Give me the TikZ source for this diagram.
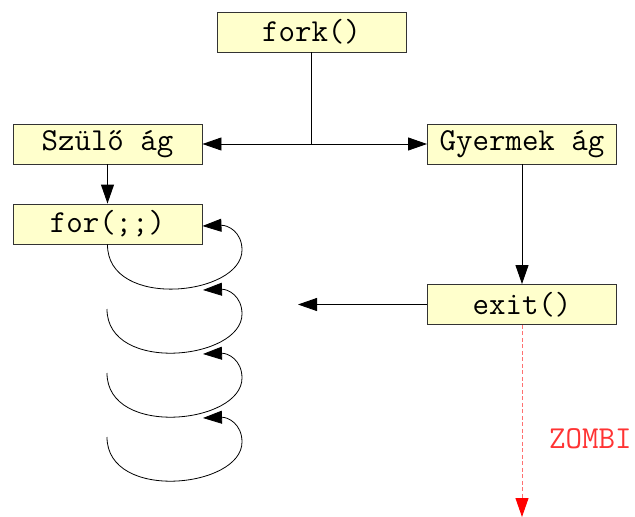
\documentclass[tikz,border=0pt]{standalone}
\usepackage{fontspec}
\usetikzlibrary{arrows.meta}
\definecolor{boxfill}{HTML}{FFFFCC}
\definecolor{boxline}{HTML}{333333}
\definecolor{zombiered}{HTML}{FF3333}
\definecolor{zombieline}{HTML}{FF7070}
\newcommand{\boxtext}{\ttfamily\addfontfeature{FakeStretch=1.07}\fontsize{32}{34}\selectfont}
\begin{document}
\begin{tikzpicture}[x=1pt,y=-1pt,
  stepbox/.style={draw=boxline,fill=boxfill,line width=0.9pt,
    minimum width=189pt,minimum height=40pt,inner sep=0pt,
    font=\boxtext},
  conn/.style={line width=0.9pt,-{Triangle[length=19pt,width=13pt]}},
  plain/.style={line width=0.9pt},
  loopline/.style={line width=0.8pt,-{Triangle[length=19pt,width=13pt]}}]
\useasboundingbox (0,0) rectangle (635,517);

\node[stepbox] (fork)   at (311.5,32)  {fork()};
\node[stepbox] (szulo)  at (107.5,144) {Szülő ág};
\node[stepbox] (gyerm)  at (522,144)   {Gyermek ág};
\node[stepbox] (forl)   at (107.5,224) {for(;;)};
\node[stepbox] (exitn)  at (522,304.5) {exit()};

% branching after fork()
\coordinate (split) at (fork.south |- szulo.east);
\draw[plain] (fork.south) -- (split);
\draw[conn] (split) -- (szulo.east);
\draw[conn] (split) -- (gyerm.west);

\draw[conn] (szulo.south) -- (forl.north);
\draw[conn] (gyerm.south) -- (exitn.north);

% signal towards the parent
\coordinate (sig) at (298,304.5);
\draw[conn] (exitn.west) -- (sig);

% zombie state
\coordinate (zend) at (522,517);
\draw[zombieline,line width=0.9pt,dash pattern=on 4pt off 2.5pt,
  -{Triangle[length=19pt,width=13pt,fill=red,color=red]}] (exitn.south) -- (zend);
\node[text=zombiered,font=\boxtext,anchor=west,inner sep=0pt] (zombi) at (549,439) {ZOMBI};

% endless loop
\coordinate (l1s) at (forl.south);
\draw[loopline] (l1s) .. controls (107,310) and (242,296) .. (242,250)
  .. controls (242,232) and (228,225) .. (forl.east |- 0,226);
\foreach \s/\t in {309/290,373/354,437/418}{
  \draw[loopline] (107,\s) .. controls (107,\s+65) and (242,\s+51) .. (242,\s+5)
    .. controls (242,\s-13) and (228,\s-20) .. (203,\t);
}
\end{tikzpicture}
\end{document}
